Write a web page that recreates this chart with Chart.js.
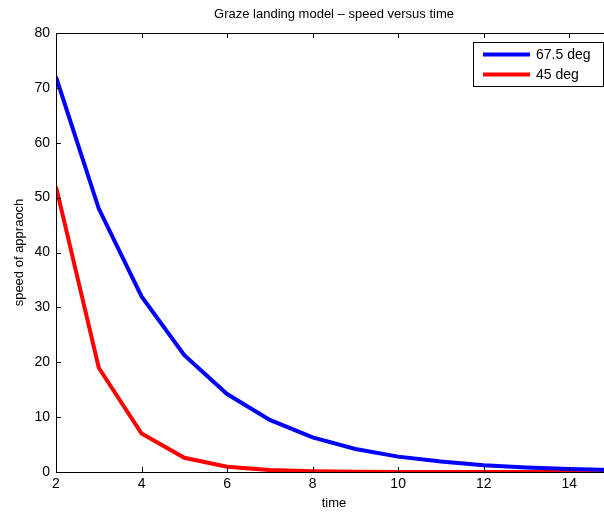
<!DOCTYPE html>
<html>
<head>
<meta charset="utf-8">
<script src="https://cdn.jsdelivr.net/npm/chart.js@4"></script>
<style>
  html, body { margin: 0; padding: 0; overflow: hidden; background: #fff; }
  canvas { display: block; }
</style>
</head>
<body>
<canvas id="chart0" width="620" height="515"></canvas>
<script>
const times = [2, 3, 4, 5, 6, 7, 8, 9, 10, 11, 12, 13, 14, 15];
const speed_67 = [72, 48, 32, 21.3, 14.2, 9.5, 6.3, 4.2, 2.8, 1.9, 1.25, 0.83, 0.55, 0.37];
const speed_45 = [52, 19, 7, 2.6, 0.95, 0.35, 0.13, 0.05, 0.02, 0.01, 0, 0, 0, 0];
const xticks = [2, 4, 6, 8, 10, 12, 14];
const yticks = [0, 10, 20, 30, 40, 50, 60, 70, 80];
const seriesNames = ["67.5 deg", "45 deg"];
const titleText = "Graze landing model \u2013 speed versus time";

const FONT = "'Liberation Sans', Arial, sans-serif";

// box, inward ticks, title and legend like matlab
const matlabBits = {
  id: "matlabBits",
  afterDraw(chart) {
    const ctx = chart.ctx;
    const a = chart.chartArea;
    const xs = chart.scales.x, ys = chart.scales.y;
    ctx.save();
    ctx.strokeStyle = "#000";
    ctx.lineWidth = 1;
    ctx.beginPath();
    xticks.forEach(v => {
      const px = Math.round(xs.getPixelForValue(v)) + 0.5;
      ctx.moveTo(px, a.bottom); ctx.lineTo(px, a.bottom - 5);
      ctx.moveTo(px, a.top); ctx.lineTo(px, a.top + 5);
    });
    yticks.forEach(v => {
      const py = Math.round(ys.getPixelForValue(v)) + 0.5;
      ctx.moveTo(a.left, py); ctx.lineTo(a.left + 5, py);
      ctx.moveTo(a.right, py); ctx.lineTo(a.right - 5, py);
    });
    ctx.stroke();
    ctx.strokeRect(Math.round(a.left) + 0.5, Math.round(a.top) + 0.5,
                   Math.round(a.right - a.left), Math.round(a.bottom - a.top));

    // title
    ctx.fillStyle = "#000";
    ctx.font = "13px " + FONT;
    ctx.textAlign = "center";
    ctx.textBaseline = "middle";
    ctx.fillText(titleText, (a.left + a.right) / 2, 14);

    // legend
    const lx = 473.5, ly = 42.5, lw = 130, lh = 44;
    ctx.fillStyle = "#fff";
    ctx.fillRect(lx, ly, lw, lh);
    ctx.strokeRect(lx, ly, lw, lh);
    ctx.font = "14px " + FONT;
    ctx.textAlign = "left";
    chart.data.datasets.forEach((ds, i) => {
      const y = ly + 12 + i * 20;
      ctx.strokeStyle = ds.borderColor;
      ctx.lineWidth = 4;
      ctx.beginPath();
      ctx.moveTo(483, y); ctx.lineTo(530, y);
      ctx.stroke();
      ctx.fillStyle = "#000";
      ctx.fillText(ds.label, 536, y + 1);
    });
    ctx.restore();
  }
};

const ctx = document.getElementById("chart0").getContext("2d");
const myChart = new Chart(ctx, {
  type: "line",
  data: {
    datasets: [
      {
        label: seriesNames[0],
        data: times.map((t, i) => ({ x: t, y: speed_67[i] })),
        borderColor: "rgb(0, 0, 255)",
        borderWidth: 4,
        pointRadius: 0,
        tension: 0,
      },
      {
        label: seriesNames[1],
        data: times.map((t, i) => ({ x: t, y: speed_45[i] })),
        borderColor: "rgb(255, 0, 0)",
        borderWidth: 4,
        pointRadius: 0,
        tension: 0,
      },
    ],
  },
  options: {
    responsive: false,
    animation: false,
    layout: { padding: { top: 33, right: 8, left: 0, bottom: 0 } },
    plugins: {
      legend: { display: false },
      title: { display: false },
      tooltip: { enabled: false },
    },
    scales: {
      x: {
        type: "linear",
        min: 2,
        max: 15,
        afterBuildTicks: s => { s.ticks = xticks.map(v => ({ value: v })); },
        afterFit: s => { s.height = 43; },
        grid: { display: false, drawTicks: false },
        border: { display: false },
        ticks: { color: "#000", font: { family: FONT, size: 14 }, padding: 4, maxRotation: 0 },
        title: { display: true, text: "time", color: "#000", font: { family: FONT, size: 13 }, padding: { top: 0 } },
      },
      y: {
        min: 0,
        max: 80,
        afterBuildTicks: s => { s.ticks = yticks.map(v => ({ value: v })); },
        afterFit: s => { s.width = 56; },
        grid: { display: false, drawTicks: false },
        border: { display: false },
        ticks: { color: "#000", font: { family: FONT, size: 14 }, padding: 6 },
        title: { display: true, text: "speed of appraoch", color: "#000", font: { family: FONT, size: 13 }, padding: { top: 12, bottom: 0 } },
      },
    },
  },
  plugins: [matlabBits],
});
</script>
</body>
</html>
